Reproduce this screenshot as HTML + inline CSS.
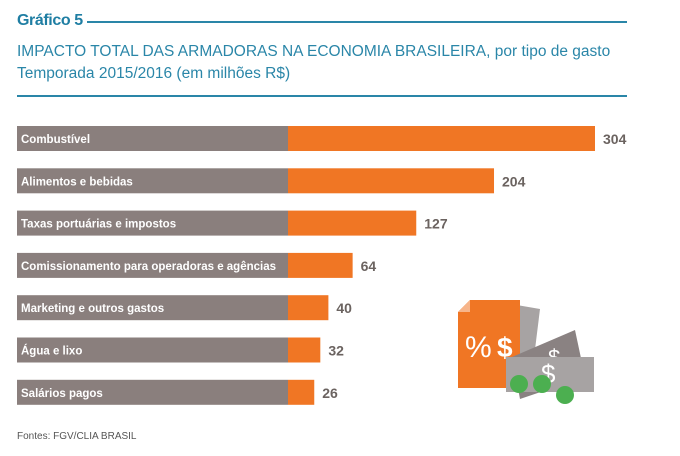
<!DOCTYPE html>
<html><head><meta charset="utf-8"><style>
body{margin:0;width:680px;height:456px;background:#fff;font-family:"Liberation Sans",sans-serif;position:relative;overflow:hidden}
.abs{position:absolute}
</style></head><body>
<div class="abs" style="left:17px;top:12px;font-size:16px;font-weight:bold;color:#1f7ea3;letter-spacing:-0.4px">Gráfico 5</div>
<div class="abs" style="left:87px;top:21px;width:540px;height:2px;background:#2a86a8"></div>
<div class="abs" style="left:17px;top:41px;font-size:15.5px;color:#2a86a8;line-height:22px">IMPACTO TOTAL DAS ARMADORAS NA ECONOMIA BRASILEIRA, por tipo de gasto<br>Temporada 2015/2016 (em milhões R$)</div>
<div class="abs" style="left:17px;top:95px;width:610px;height:2px;background:#2a86a8"></div>
<svg class="abs" style="left:0;top:0" width="680" height="456" id="chart"></svg>
<div class="abs" style="left:17px;top:431px;font-size:10px;color:#555">Fontes: FGV/CLIA BRASIL</div>
<svg class="abs" style="left:440px;top:295px" width="180" height="115">
<polygon points="65,8 100,14 90,95 55,90" fill="#a7a3a3"/>
<polygon points="18,5 80,5 80,93 18,93" fill="#f07624"/>
<polygon points="18,5 30,5 18,17" fill="#fff"/>
<polygon points="18,17 30,17 30,5" fill="#f7b58a"/>
<text x="25" y="62" font-size="30" fill="#fff" font-family="Liberation Sans">%</text>
<text x="57" y="62" font-size="28" fill="#fff" font-weight="bold" font-family="Liberation Sans">$</text>
<polygon points="72,62 135,35 145,82 80,104" fill="#8a8282"/>
<text x="108" y="70" font-size="22" fill="#fff" font-family="Liberation Sans">$</text>
<rect x="66" y="62" width="88" height="35" fill="#a7a3a3"/>
<text x="101" y="88" font-size="26" fill="#fff" font-family="Liberation Sans">$</text>
<circle cx="79" cy="89" r="9" fill="#4caf50"/><circle cx="102" cy="89" r="9" fill="#4caf50"/><circle cx="125" cy="100" r="9" fill="#4caf50"/>
</svg>
<script>
const categories=["Combustível","Alimentos e bebidas","Taxas portuárias e impostos","Comissionamento para operadoras e agências","Marketing e outros gastos","Água e lixo","Salários pagos"];
const values=[304,204,127,64,40,32,26];
const svg=document.getElementById('chart');const NS="http://www.w3.org/2000/svg";
const x0=288,scale=307/304;
function xs(v){return x0+v*scale;}
function ys(i){return 126+i*42.3;}
categories.forEach((c,i)=>{
 const y=ys(i);
 const g=document.createElementNS(NS,'rect');g.setAttribute('x',17);g.setAttribute('y',y);g.setAttribute('width',x0-17);g.setAttribute('height',25);g.setAttribute('fill','#8a7f7d');
 
 svg.appendChild(g);
 const b=document.createElementNS(NS,'rect');b.setAttribute('x',x0);b.setAttribute('y',y);b.setAttribute('width',xs(values[i])-x0);b.setAttribute('height',25);b.setAttribute('fill','#f07624');
 
 svg.appendChild(b);
 const t=document.createElementNS(NS,'text');t.setAttribute('x',21);t.setAttribute('y',y+17);t.setAttribute('font-size','11.5');t.setAttribute('font-weight','bold');t.setAttribute('fill','#fff');t.textContent=c;
 
 svg.appendChild(t);
 const v=document.createElementNS(NS,'text');v.setAttribute('x',xs(values[i])+8);v.setAttribute('y',y+18);v.setAttribute('font-size','14');v.setAttribute('font-weight','bold');v.setAttribute('fill','#6b6360');v.textContent=values[i];
 
 svg.appendChild(v);
});
</script>
</body></html>
